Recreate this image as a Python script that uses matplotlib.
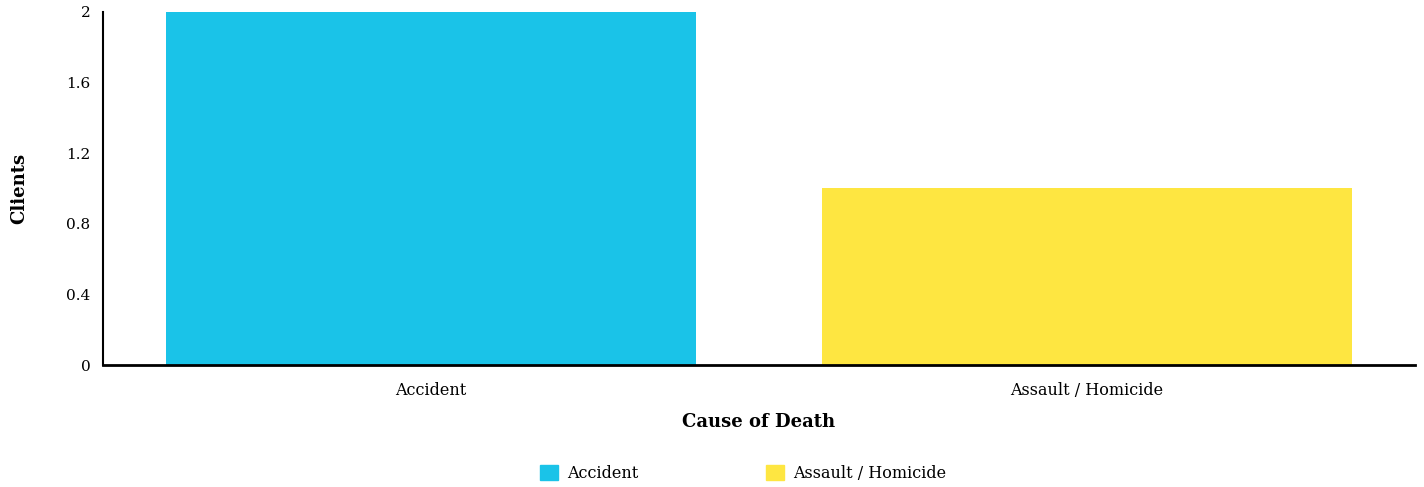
import matplotlib.pyplot as plt
from matplotlib.patches import Patch

plt.rcParams['font.family'] = ['DejaVu Serif']

causes = ["Accident", "Assault / Homicide"]
clients = [2, 1]
colors = ["#1AC3E8", "#FEE641"]
yticks = [0, 0.4, 0.8, 1.2, 1.6, 2]
ytick_labels = ["0", "0.4", "0.8", "1.2", "1.6", "2"]

fig = plt.figure(figsize=(14.24, 4.87), dpi=100)
ax = fig.add_axes([0.0723, 0.2505, 0.9214, 0.7249])

x = list(range(len(causes)))
ax.bar(x, clients, width=0.808, color=colors)

ax.set_xlim(-0.5, 1.5)
ax.set_ylim(0, 2)
ax.set_xticks(x)
ax.set_xticklabels(causes, fontsize=11.5)
ax.set_yticks(yticks)
ax.set_yticklabels(ytick_labels, fontsize=11)
ax.tick_params(axis='x', length=0, pad=12)
ax.tick_params(axis='y', length=0, pad=9)

for s in ["top", "right"]:
    ax.spines[s].set_visible(False)
ax.spines["left"].set_linewidth(1.5)
ax.spines["bottom"].set_linewidth(2)

ax.set_xlabel("Cause of Death", fontsize=13, fontweight="bold", labelpad=10)
ax.set_ylabel("Clients", fontsize=13, fontweight="bold")
ax.yaxis.set_label_coords(-0.0572, 0.5)

handles = [Patch(color=c, label=n) for c, n in zip(colors, causes)]
fig.legend(handles=handles, loc="center", bbox_to_anchor=(0.522, 0.028),
           ncol=2, frameon=False, fontsize=11.5, handlelength=1.1,
           handleheight=1.1, columnspacing=8, handletextpad=0.6)

fig.savefig("out.png", dpi=100)
